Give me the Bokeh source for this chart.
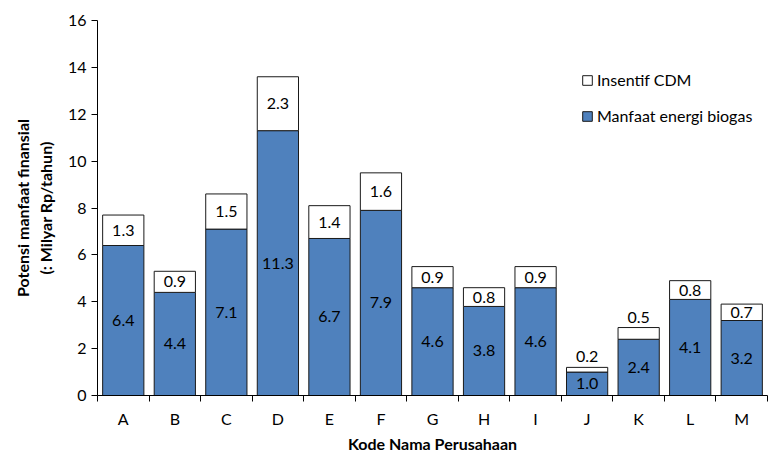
from bokeh.plotting import figure
from bokeh.models import (Range1d, LinearAxis, FixedTicker,
                          ColumnDataSource, Legend, LegendItem)
from bokeh.core.properties import value
from bokeh.embed import file_html
from bokeh.resources import INLINE

companies = ["A", "B", "C", "D", "E", "F", "G", "H", "I", "J", "K", "L", "M"]
biogas = [6.4, 4.4, 7.1, 11.3, 6.7, 7.9, 4.6, 3.8, 4.6, 1.0, 2.4, 4.1, 3.2]
cdm = [1.3, 0.9, 1.5, 2.3, 1.4, 1.6, 0.9, 0.8, 0.9, 0.2, 0.5, 0.8, 0.7]
y_ticks = [0, 2, 4, 6, 8, 10, 12, 14, 16]

FONT = "Lato"
FS = "16px"
BLUE = "#4F81BD"

n = len(companies)
xpos = [i + 0.5 for i in range(n)]
total = [b + c for b, c in zip(biogas, cdm)]
src = ColumnDataSource(dict(
    x=xpos, biogas=biogas, cdm=cdm, total=total,
    bio_mid=[b / 2 for b in biogas],
    bio_lbl=[f"{b:.1f}" for b in biogas],
))
inside = [i for i, c in enumerate(cdm) if c >= 0.7]
above = [i for i, c in enumerate(cdm) if c < 0.7]
src_in = ColumnDataSource(dict(
    x=[xpos[i] for i in inside],
    y=[biogas[i] + cdm[i] / 2 for i in inside],
    t=[f"{cdm[i]:.1f}" for i in inside]))
src_ab = ColumnDataSource(dict(
    x=[xpos[i] for i in above],
    y=[total[i] for i in above],
    t=[f"{cdm[i]:.1f}" for i in above]))

p = figure(width=771, height=457, x_range=Range1d(0, n),
           y_range=Range1d(0, 16), output_backend="svg", toolbar_location=None,
           x_axis_location=None, min_border_left=97, min_border_right=4,
           min_border_top=20, min_border_bottom=62)
p.outline_line_color = None
p.xgrid.visible = False
p.ygrid.visible = False
p.background_fill_color = "white"
p.border_fill_color = "white"

r_bio = p.vbar(x="x", top="biogas", bottom=0, width=0.8, source=src,
               fill_color=BLUE, line_color="#1a1a1a", line_width=1)
r_cdm = p.vbar(x="x", top="total", bottom="biogas", width=0.8, source=src,
               fill_color="white", line_color="#1a1a1a", line_width=1)

p.text(x="x", y="bio_mid", text="bio_lbl", source=src, text_align="center",
       text_baseline="middle", text_font=value(FONT), text_font_size=FS,
       text_color="black")
p.text(x="x", y="y", text="t", source=src_in, text_align="center",
       text_baseline="middle", text_font=value(FONT), text_font_size=FS,
       text_color="black")
p.text(x="x", y="y", text="t", source=src_ab, text_align="center",
       text_baseline="bottom", y_offset=-5, text_font=value(FONT),
       text_font_size=FS, text_color="black")

# y axis
ya = p.yaxis[0]
ya.ticker = FixedTicker(ticks=y_ticks)
ya.minor_tick_line_color = None
ya.major_tick_in = 0
ya.major_tick_out = 6
ya.axis_line_color = "black"
ya.major_tick_line_color = "black"
ya.major_label_text_font = FONT
ya.major_label_text_font_size = FS
ya.major_label_text_color = "black"
ya.major_label_standoff = 5
ya.axis_label = "Potensi manfaat finansial\n(: Milyar Rp/tahun)"
ya.axis_label_text_font = FONT
ya.axis_label_text_font_size = FS
ya.axis_label_text_font_style = "bold"
ya.axis_label_text_color = "black"
ya.axis_label_standoff = 10

# x axis: labels at category centres, minor ticks at category boundaries
xa = LinearAxis(ticker=FixedTicker(ticks=xpos, minor_ticks=list(range(n + 1))),
                major_label_overrides={x: c for x, c in zip(xpos, companies)})
xa.axis_line_color = "black"
xa.major_tick_line_color = None
xa.major_tick_in = 0
xa.major_tick_out = 6
xa.minor_tick_line_color = "black"
xa.minor_tick_in = 0
xa.minor_tick_out = 6
xa.major_label_text_font = FONT
xa.major_label_text_font_size = FS
xa.major_label_text_color = "black"
xa.major_label_standoff = 7
xa.axis_label = "Kode Nama Perusahaan"
xa.axis_label_text_font = FONT
xa.axis_label_text_font_size = FS
xa.axis_label_text_font_style = "bold"
xa.axis_label_text_color = "black"
xa.axis_label_standoff = 3
p.add_layout(xa, "below")

legend = Legend(items=[LegendItem(label="Insentif CDM", renderers=[r_cdm]),
                       LegendItem(label="Manfaat energi biogas", renderers=[r_bio])],
                location=(484, 270))
legend.border_line_color = None
legend.background_fill_alpha = 0
legend.label_text_font = FONT
legend.label_text_font_size = FS
legend.label_text_color = "black"
legend.glyph_width = 12
legend.glyph_height = 12
legend.spacing = 17
legend.label_standoff = 4
legend.margin = 0
legend.padding = 0
p.add_layout(legend)

open("out.html", "w").write(file_html(p, INLINE))
